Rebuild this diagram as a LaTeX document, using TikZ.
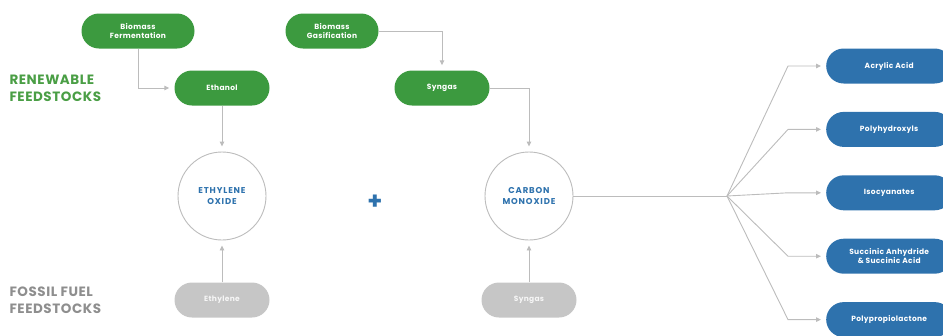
\documentclass[tikz,border=0pt]{standalone}
\usepackage{fontspec}
\setmainfont{Poppins}
\usepackage{xcolor}
\usetikzlibrary{arrows.meta,positioning}
\definecolor{leafgreen}{HTML}{3C9A3F}
\definecolor{labelgreen}{HTML}{4A9E45}
\definecolor{prodblue}{HTML}{2E72AD}
\definecolor{fossilgrey}{HTML}{C6C6C6}
\definecolor{labelgrey}{HTML}{8E8E8E}
\definecolor{linegrey}{HTML}{BCBCBC}

\begin{document}
\begin{tikzpicture}[x=1pt, y=-1pt,
    feed/.style={fill=leafgreen, text=white, rounded corners=17.5pt, minimum height=35pt, align=center, inner sep=2pt, font=\fontsize{7.5}{9.5}\selectfont\bfseries\addfontfeatures{LetterSpace=4}},
    fossil/.style={feed, fill=fossilgrey, text=white!85!fossilgrey},
    product/.style={feed, fill=prodblue, minimum width=126pt, anchor=west},
    hub/.style={circle, draw=linegrey, line width=0.9pt, minimum size=88pt, align=center, text=prodblue, font=\fontsize{8.5}{11}\selectfont\bfseries\addfontfeatures{LetterSpace=10}},
    sidelabel/.style={anchor=west, align=left, font=\fontsize{13.5}{17}\selectfont\bfseries\addfontfeatures{LetterSpace=4}},
    arr/.style={-{Triangle[length=5pt, width=4.5pt]}, draw=linegrey, line width=0.9pt, shorten >=5pt}
]
\useasboundingbox (0,0) rectangle (943,335);

% feedstock labels
\node[sidelabel, text=labelgreen] (renew) at (6,88) {RENEWABLE\\FEEDSTOCKS};
\node[sidelabel, text=labelgrey] (fossilfuel) at (6,300) {FOSSIL FUEL\\FEEDSTOCKS};

% renewable routes
\node[feed, minimum width=113pt] (ferm) at (138,31) {Biomass\\Fermentation};
\node[feed, minimum width=93pt] (gasif) at (332,31) {Biomass\\Gasification};
\node[feed, minimum width=95pt] (ethanol) at (222,88) {Ethanol};
\node[feed, minimum width=95pt] (syngreen) at (442,88) {Syngas};

% building blocks
\node[hub] (eo) at (222,196) {ETHYLENE\\OXIDE};
\node[hub] (co) at (529,196) {CARBON\\MONOXIDE};
\node[text=prodblue, font=\fontsize{24}{24}\selectfont\bfseries] (plus) at (375,202) {+};

% fossil routes
\node[fossil, minimum width=95pt] (ethylene) at (222,300) {Ethylene};
\node[fossil, minimum width=95pt] (syngrey) at (529,300) {Syngas};

% products
\node[product] (acrylic) at (826,66) {Acrylic Acid};
\node[product, below=28pt of acrylic] (polyhyd) {Polyhydroxyls};
\node[product, below=28pt of polyhyd] (isocyan) {Isocyanates};
\node[product, below=28pt of isocyan] (succinic) {Succinic Anhydride\\\& Succinic Acid};
\node[product, below=28pt of succinic] (polyprop) {Polypropiolactone};

\coordinate (fan) at (727,196);

\draw[arr] (ferm.south) |- (ethanol.west);
\draw[arr] (gasif.east) -| (syngreen.north);
\draw[arr] (ethanol) -- (eo);
\draw[arr] (syngreen.east) -| (co.north);
\draw[arr] (ethylene) -- (eo);
\draw[arr] (syngrey) -- (co);
\draw[draw=linegrey, line width=0.9pt] (co.east) -- (fan);
\foreach \prod in {acrylic,polyhyd,isocyan,succinic,polyprop}
  \draw[arr] (fan) -- ([xshift=-38pt]\prod.west) -- (\prod.west);
\end{tikzpicture}
\end{document}
